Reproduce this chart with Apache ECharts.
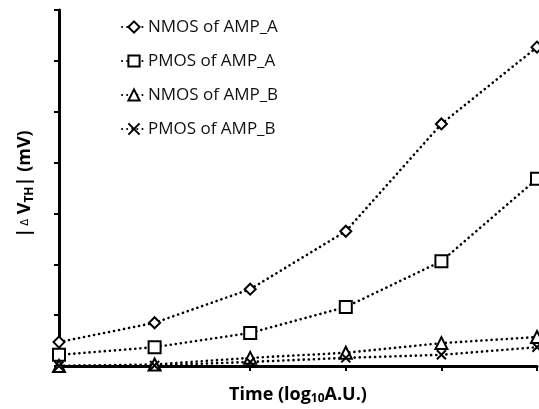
<!DOCTYPE html>
<html>
<head>
<meta charset="utf-8">
<script src="https://cdn.jsdelivr.net/npm/echarts@6/dist/echarts.min.js"></script>
<style>
  html, body { margin: 0; padding: 0; background: #fff; }
  #main { width: 539px; height: 409px; }
</style>
</head>
<body>
<div id="main"></div>
<script type="text/javascript">
// time steps (log scale, no labels shown)
var categories = ['1', '2', '3', '4', '5', '6'];
var nmosA = [0.47, 0.85, 1.51, 2.65, 4.76, 6.27];
var pmosA = [0.22, 0.37, 0.65, 1.16, 2.06, 3.68];
var nmosB = [0.00, 0.03, 0.16, 0.26, 0.45, 0.57];
var pmosB = [0.00, 0.01, 0.08, 0.16, 0.22, 0.37];

var crossPath = 'path://M0,0L10,10M10,0L0,10';

function mkSeries(name, data, symbol, size) {
    return {
        name: name,
        type: 'line',
        data: data,
        symbol: symbol,
        symbolSize: size,
        showAllSymbol: true,
        lineStyle: { color: '#000', width: 2.6, type: [0.1, 5], cap: 'round' },
        itemStyle: { color: symbol === crossPath ? 'none' : '#fff', borderColor: '#000', borderWidth: 2 },
        emphasis: { disabled: true }
    };
}

var myChart = echarts.init(document.getElementById('main'));
var option = {
    animation: false,
    textStyle: { fontFamily: 'Open Sans' },
    grid: { left: 59, right: 2, top: 10, bottom: 43, containLabel: false, outerBoundsMode: 'none' },
    legend: {
        orient: 'vertical',
        left: 116,
        top: 12,
        itemGap: 14,
        itemWidth: 24,
        itemHeight: 14,
        textStyle: { fontSize: 17, lineHeight: 20, color: '#111', padding: [0, 0, 0, -3] },
        data: ['NMOS of AMP_A', 'PMOS of AMP_A', 'NMOS of AMP_B', 'PMOS of AMP_B']
    },
    graphic: [{
        type: 'text',
        x: 25,
        y: 184,
        rotation: Math.PI / 2,
        style: {
            text: '{b||}{d|Δ}{b| V}{s|TH}{b|| (mV)}',
            align: 'center',
            verticalAlign: 'middle',
            rich: {
                b: { fontSize: 18, fontWeight: 'bold', fill: '#000', fontFamily: 'Open Sans' },
                d: { fontSize: 10, fill: '#000', fontFamily: 'DejaVu Sans', padding: [0, 0, 0, 2] },
                s: { fontSize: 12, fontWeight: 'bold', fill: '#000', fontFamily: 'Open Sans', padding: [9, 0, 0, 0] }
            }
        }
    }],
    xAxis: {
        type: 'category',
        data: categories,
        boundaryGap: false,
        axisLine: { lineStyle: { color: '#000', width: 3 } },
        axisTick: { show: true, inside: false, length: 5, lineStyle: { width: 2, color: '#000' } },
        axisLabel: { show: false },
        name: '{b|Time (log}{s|10}{b|A.U.)}',
        nameLocation: 'middle',
        nameGap: 18,
        nameTextStyle: {
            lineHeight: 22,
            rich: {
                b: { fontSize: 18, fontWeight: 'bold', color: '#000', fontFamily: 'Open Sans', lineHeight: 22 },
                s: { fontSize: 12, fontWeight: 'bold', color: '#000', fontFamily: 'Open Sans', padding: [8, 0, 0, 0] }
            }
        }
    },
    yAxis: {
        type: 'value',
        min: 0,
        max: 7,
        interval: 1,
        splitLine: { show: false },
        axisLine: { show: true, lineStyle: { color: '#000', width: 3 } },
        axisTick: { show: true, inside: false, length: 5, lineStyle: { width: 2, color: '#000' } },
        axisLabel: { show: false }
    },
    series: [
        mkSeries('NMOS of AMP_A', nmosA, 'diamond', 11),
        mkSeries('PMOS of AMP_A', pmosA, 'rect', 12),
        mkSeries('NMOS of AMP_B', nmosB, 'triangle', 12),
        mkSeries('PMOS of AMP_B', pmosB, crossPath, 9)
    ]
};
myChart.setOption(option);
</script>
</body>
</html>
